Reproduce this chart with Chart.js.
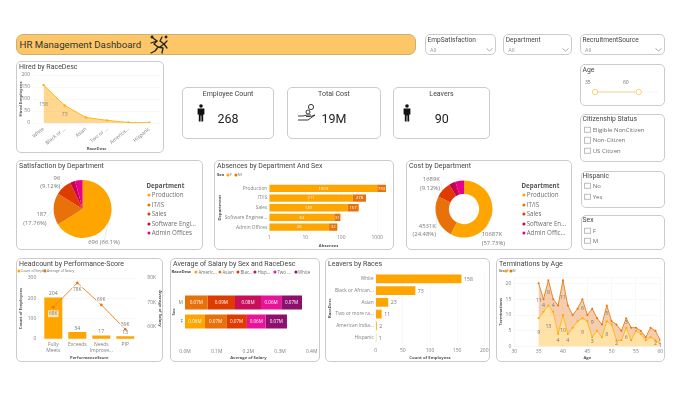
<!DOCTYPE html>
<html>
<head>
<meta charset="utf-8">
<title>HR Management Dashboard</title>
<script src="https://cdn.jsdelivr.net/npm/chart.js@4/dist/chart.umd.min.js"></script>
<style>
  html, body { margin: 0; padding: 0; background: #fff; width: 680px; height: 409px; overflow: hidden; }
  #page { position: relative; width: 680px; height: 409px; font-family: "Open Sans", sans-serif; color: #6e6e6e; filter: blur(0.3px); }
  .card { position: absolute; box-sizing: border-box; background: #fff; border: 1px solid #cbcbcb; border-radius: 5px; }
  .card canvas { position: absolute; left: -1px; top: -1px; }
  .txt { position: absolute; white-space: nowrap; line-height: 1; transform: translateY(-50%); }
  .din { font-family: Roboto, sans-serif; color: #444; }
  .dot { position: absolute; width: 3.2px; height: 3.2px; border-radius: 50%; transform: translate(-50%, -50%); }
  .box { position: absolute; width: 6.4px; height: 6.4px; box-sizing: border-box; border: 1px solid #bcbcbc; transform: translateY(-50%); background: #fff; }
  svg { position: absolute; overflow: visible; }
</style>
</head>
<body>
<div id="page"></div>
<script>
// chart values
const departments = ["Production", "IT/IS", "Sales", "Software Engineering", "Admin Offices"];
const deptColors = ["#FFA500", "#E8710A", "#DF3B00", "#C9004F", "#E5008C"];

const hiredRaces = ["White", "Black or ...", "Asian", "Two or ...", "America...", "Hispanic"];
const hiredValues = [158, 73, 23, 11, 2, 1];

const satisfactionValues = [696, 187, 96, 30, 44];
const satisfactionLabels = [["696 (66.1%)"], ["187", "(17.76%)"], ["96", "(9.12%)"]];

const absenceDepts = ["Production", "IT/IS", "Sales", "Software Enginee...", "Admin Offices"];
const absencesF = [1003, 211, 149, 64, 46];
const absencesM = [753, 278, 157, 31, 32];
const absenceTicks = [1, 10, 100, 1000];

const costValues = [10687, 4531, 1689, 700, 905];
const costLabels = [["10687K", "(57.73%)"], ["4531K", "(24.48%)"], ["1689K", "(9.12%)"]];

const perfScores = [["Fully", "Meets"], "Exceeds", ["Needs", "Improve..."], "PIP"];
const perfCounts = [204, 34, 17, 13];
const perfSalaries = [68000, 78000, 69000, 59000];
const perfSalaryTicks = [60000, 70000, 80000];

const salaryRaces = ["Americ...", "Asian", "Blac...", "Hisp...", "Two ...", "White"];
const salaryColors = ["#FFA500", "#E8710A", "#DF3B00", "#C80F5A", "#EA1299", "#8E0F6E"];
const salarySexes = ["M", "F"];
const salaryAmerican = [null, 63000];
const salaryAsian = [71600, 67400];
const salaryBlack = [86300, 65100];
const salaryHispanic = [82000, null];
const salaryTwo = [64000, 59000];
const salaryWhite = [65500, 67400];

const leaverRaces = ["White", "Black or African...", "Asian", "Two or more ra...", "American India...", "Hispanic"];
const leaverCounts = [158, 73, 23, 11, 2, 1];

const termAges = [35, 36, 37, 38, 39, 40, 41, 42, 43, 44, 45, 46, 47, 48, 49, 50, 51, 52, 53, 54, 55, 56, 57, 58, 59, 60];
const termF = [9, 11, 13, 11, 4, 10, 4, 6, 8, 9, 8, 3, 5, 3, 8, 7, 2, 2, 6, 2, 5, 4, 2, 3, 2, 1];
const termM = [11, 4, 8, 4, 9, 11, 9, 4, 4, 6, 2, 9, 4, 4, 5, 1, 5, 3, 3, 4, 1, 1, 1, 3, 3, 1];
const termLabelAgesF = [35, 37, 39, 40, 41, 44, 46, 49, 51, 53, 59, 60];
const termLabelAgesM = [35, 36, 37, 38, 40, 44, 46, 49, 53];

Chart.defaults.animation = false;
Chart.defaults.responsive = false;
Chart.defaults.font.family = "Open Sans";
Chart.defaults.font.size = 5;
Chart.defaults.color = "#808080";
Chart.defaults.plugins.legend.display = false;
Chart.defaults.plugins.tooltip.enabled = false;

const page = document.getElementById("page");

function addText(x, y, str, size, cls, extra) {
  const el = document.createElement("div");
  el.className = "txt " + (cls || "");
  el.textContent = str;
  el.style.left = x + "px";
  el.style.top = y + "px";
  el.style.fontSize = size + "px";
  if (extra) Object.assign(el.style, extra);
  page.appendChild(el);
  return el;
}

function addCard(x, y, w, h, title) {
  const el = document.createElement("div");
  el.className = "card";
  el.style.cssText = `left:${x}px;top:${y}px;width:${w}px;height:${h}px`;
  page.appendChild(el);
  if (title) addText(x + 3, y + 5.5, title, 7, "din");
  return el;
}

function addCanvas(card, w, h) {
  const c = document.createElement("canvas");
  c.width = w;
  c.height = h;
  card.appendChild(c);
  return c.getContext("2d");
}

function addDot(x, y, color) {
  const d = document.createElement("div");
  d.className = "dot";
  d.style.left = x + "px";
  d.style.top = y + "px";
  d.style.background = color;
  page.appendChild(d);
}

function addCheck(x, y, label) {
  const b = document.createElement("div");
  b.className = "box";
  b.style.left = x + "px";
  b.style.top = y + "px";
  page.appendChild(b);
  addText(x + 8.4, y, label, 6);
}

function addSvg(x, y, w, h, body) {
  page.insertAdjacentHTML("beforeend", `<svg style="left:${x}px;top:${y}px" width="${w}" height="${h}" viewBox="0 0 ${w} ${h}">${body}</svg>`);
}

function vertLegend(x, names) {
  addText(x - 2.5, 186, "Department", 6.2, "", { fontWeight: "700", color: "#555" });
  names.forEach(function (name, i) {
    const y = 195.3 + i * 9.4;
    addDot(x, y, deptColors[i]);
    addText(x + 2.7, y, name, 6.2);
  });
}

// scale helper: the axis box gets a fixed size so the plot sits where it should
function fit(size) {
  return function (s) {
    if (s.isHorizontal()) s.height = size;
    else s.width = size;
    s.paddingLeft = s.paddingRight = s.paddingTop = s.paddingBottom = 0;
  };
}

function axisTitle(str, pad) {
  return { display: true, text: str, font: { size: 4.2, weight: "700" }, color: "#555", padding: pad || 0 };
}

const noGrid = { display: false, drawTicks: false };
const softGrid = { color: "#f3f3f3", lineWidth: 0.6, drawTicks: false };

function drawText(ctx, str, x, y, color, size, align, bg) {
  ctx.save();
  ctx.font = `${size}px "Open Sans"`;
  ctx.textAlign = align || "center";
  ctx.textBaseline = "middle";
  if (bg) {
    const w = ctx.measureText(str).width + 2;
    ctx.fillStyle = bg;
    ctx.fillRect(x - w / 2, y - size / 2 - 1, w, size + 2);
  }
  ctx.fillStyle = color;
  ctx.fillText(str, x, y);
  ctx.restore();
}

function labelPlugin(draw) {
  return { id: "labels", afterDatasetsDraw: function (chart) { draw(chart, chart.ctx); } };
}

// pie / doughnut labels hang off the middle of each arc's outer edge
function arcLabels(texts, spots) {
  return labelPlugin(function (chart, ctx) {
    const arcs = chart.getDatasetMeta(0).data;
    texts.forEach(function (lines, i) {
      const a = arcs[i];
      const mid = (a.startAngle + a.endAngle) / 2;
      const ex = a.x + Math.cos(mid) * a.outerRadius;
      const ey = a.y + Math.sin(mid) * a.outerRadius;
      const s = spots[i];
      ctx.save();
      ctx.strokeStyle = "#dcdcdc";
      ctx.lineWidth = 0.6;
      ctx.beginPath();
      ctx.moveTo(ex, ey);
      ctx.lineTo(ex + s.dx, ey + s.dy + (lines.length - 1) * 3);
      ctx.stroke();
      ctx.restore();
      lines.forEach(function (line, j) {
        drawText(ctx, line, ex + s.dx, ey + s.dy + j * 8.8, "#777", 5.9, s.align);
      });
    });
  });
}

// ---- header
const header = addCard(16, 34, 400, 21);
header.style.background = "#FDC767";
header.style.borderRadius = "7px";
header.style.borderColor = "#c9b078";
addText(19.5, 44.5, "HR Management Dashboard", 9.7, "din", { color: "#333" });
addSvg(149, 35, 20, 20, `<g fill="none" stroke="#222" stroke-width="1.3" stroke-linecap="round" stroke-linejoin="round">
  <path d="M4 3 L8 6 L5 9 L9 12 L6 16 L2 18"/><path d="M8 6 L2 8"/><path d="M9 12 L14 13 L13 18"/>
  <path d="M13 2 L11 6 L15 9 L18 6"/><path d="M15 9 L11 12"/><path d="M15 9 L18 13"/>
  <circle cx="3" cy="2" r="0.8"/><circle cx="17" cy="2" r="0.8"/></g>`);

// ---- hired by race
const hiredCard = addCard(16, 61, 148, 92, "Hired by RaceDesc");
new Chart(addCanvas(hiredCard, 148, 92), {
  type: "line",
  data: {
    labels: hiredRaces,
    datasets: [{
      data: hiredValues,
      borderColor: "#FFB81C",
      backgroundColor: "rgba(255,176,30,0.5)",
      borderWidth: 1,
      pointRadius: 1.2,
      pointBackgroundColor: "#FFB000",
      pointBorderWidth: 0,
      tension: 0,
      fill: "origin",
    }],
  },
  options: {
    layout: { padding: { top: 14, right: 0.5 } },
    scales: {
      x: {
        offset: true,
        afterFit: fit(30),
        grid: noGrid,
        border: { display: false },
        ticks: { minRotation: 40, maxRotation: 40, autoSkip: false, padding: 3 },
        title: axisTitle("RaceDesc", { top: 0, bottom: 1.5 }),
      },
      y: {
        min: 0,
        max: 200,
        afterFit: fit(17),
        grid: softGrid,
        border: { display: false },
        ticks: { stepSize: 50, padding: 3, autoSkip: false },
        title: axisTitle("Hired Employees", { top: 2, bottom: 0 }),
      },
    },
  },
  plugins: [labelPlugin(function (chart, ctx) {
    const y0 = chart.scales.y.getPixelForValue(0);
    chart.getDatasetMeta(0).data.forEach(function (p, i) {
      if (hiredValues[i] > 50) drawText(ctx, String(hiredValues[i]), p.x, (p.y + y0) / 2, "#888", 5.2);
    });
  })],
});

// ---- KPI cards
function personIcon(x, y) {
  addSvg(x, y, 10, 18, `<g fill="#111"><circle cx="5" cy="2" r="1.8"/><path d="M1.6 4.6 H8.4 V10.6 H7.2 V17.5 H5.4 V11.5 H4.6 V17.5 H2.8 V10.6 H1.6 Z"/></g>`);
}
addCard(182, 87, 92, 52);
addText(228, 93.5, "Employee Count", 7, "din", { transform: "translate(-50%,-50%)" });
personIcon(196, 104);
addText(228, 119, "268", 12.5, "din", { transform: "translate(-50%,-50%)", color: "#222" });

addCard(287, 87, 94, 52);
addText(334, 93.5, "Total Cost", 7, "din", { transform: "translate(-50%,-50%)" });
addSvg(297, 103, 20, 20, `<g fill="none" stroke="#222" stroke-width="0.9" stroke-linejoin="round"><path d="M1 13 H6 L10 12 H14 M1 17 H6 L11 17 L18 12 L13.5 13.5 H9"/><circle cx="14" cy="4" r="2.6"/><circle cx="11" cy="9" r="2"/></g>`);
addText(334, 119, "19M", 12.5, "din", { transform: "translate(-50%,-50%)", color: "#222" });

addCard(393, 87, 97, 52);
addText(441.5, 93.5, "Leavers", 7, "din", { transform: "translate(-50%,-50%)" });
personIcon(402, 104);
addText(441.7, 119, "90", 12.5, "din", { transform: "translate(-50%,-50%)", color: "#222" });

// ---- slicers
function dropSlicer(x, w, title) {
  addCard(x, 34, w, 21);
  addText(x + 2.5, 39.5, title, 6.6, "din");
  addText(x + 5, 51, "All", 5.5, "", { color: "#999" });
  addSvg(x + w - 10, 48, 7, 4, `<path d="M0.5 0.5 L3.5 3 L6.5 0.5" fill="none" stroke="#999" stroke-width="0.8"/>`);
}
dropSlicer(425, 71, "EmpSatisfaction");
dropSlicer(503.3, 69, "Department");
dropSlicer(580, 85, "RecruitmentSource");

addCard(580, 64, 85, 42);
addText(582.5, 69.5, "Age", 6.8, "din");
addText(585, 81.7, "35", 5);
addText(623, 81.7, "60", 5);
addSvg(590, 88, 70, 8, `<line x1="5" y1="4" x2="68" y2="4" stroke="#f0f0f0" stroke-width="0.8"/><line x1="5" y1="4" x2="48.7" y2="4" stroke="#F6D98D" stroke-width="1.2"/>
  <circle cx="5" cy="4" r="2.7" fill="#fff" stroke="#F4CE6A" stroke-width="0.9"/><circle cx="48.7" cy="4" r="2.7" fill="#fff" stroke="#F4CE6A" stroke-width="0.9"/>`);

addCard(580, 113.5, 85, 48.5);
addText(582.5, 119.3, "Citizenship Status", 6.8, "din");
addCheck(584.3, 129.7, "Eligible NonCitizen");
addCheck(584.3, 140.2, "Non-Citizen");
addCheck(584.3, 150.8, "US Citizen");

addCard(581, 170.5, 84, 37);
addText(582.5, 175.7, "Hispanic", 6.8, "din");
addCheck(584.3, 186, "No");
addCheck(584.3, 196.7, "Yes");

addCard(581, 215, 84, 35);
addText(582.5, 220, "Sex", 6.8, "din");
addCheck(584.3, 230.7, "F");
addCheck(584.3, 241, "M");

// ---- satisfaction pie
const satCard = addCard(16, 160, 187, 90, "Satisfaction by Department");
new Chart(addCanvas(satCard, 187, 90), {
  type: "pie",
  data: { labels: departments, datasets: [{ data: satisfactionValues, backgroundColor: deptColors, borderWidth: 0 }] },
  options: { layout: { padding: { left: 37.6, right: 91.4, top: 20, bottom: 12 } } },
  plugins: [arcLabels(satisfactionLabels, [
    { dx: -4, dy: 19, align: "center" },
    { dx: -7, dy: 5.3, align: "right" },
    { dx: -3, dy: -9.5, align: "right" },
  ])],
});
vertLegend(149, ["Production", "IT/IS", "Sales", "Software Engi...", "Admin Offices"]);

// ---- absences by department and sex
const absCard = addCard(214, 160, 180, 90, "Absences by Department And Sex");
new Chart(addCanvas(absCard, 180, 90), {
  type: "bar",
  data: {
    labels: absenceDepts,
    datasets: [
      { label: "F", data: absencesF, backgroundColor: deptColors[0], barPercentage: 0.75, categoryPercentage: 1 },
      { label: "M", data: absencesM, backgroundColor: deptColors[1], barPercentage: 0.75, categoryPercentage: 1 },
    ],
  },
  options: {
    indexAxis: "y",
    layout: { padding: { top: 23.5, right: 6 } },
    scales: {
      x: {
        type: "logarithmic",
        stacked: true,
        min: 1,
        max: 2000,
        afterFit: fit(18),
        afterBuildTicks: function (s) { s.ticks = absenceTicks.map(function (v) { return { value: v }; }); },
        grid: softGrid,
        border: { display: false },
        ticks: { padding: 3, callback: function (v) { return String(v); } },
        title: axisTitle("Absences", { top: 0, bottom: 1.5 }),
      },
      y: {
        stacked: true,
        afterFit: fit(55.3),
        grid: noGrid,
        border: { display: false },
        ticks: { padding: 2, autoSkip: false, font: { size: 4.8 } },
        title: axisTitle("Department", { top: 3, bottom: 0 }),
      },
    },
  },
  plugins: [labelPlugin(function (chart, ctx) {
    [absencesF, absencesM].forEach(function (vals, d) {
      chart.getDatasetMeta(d).data.forEach(function (b, i) {
        drawText(ctx, String(vals[i]), (b.x + b.base) / 2, b.y, "#fff", 4.2);
      });
    });
  })],
});
addText(217, 175, "Sex", 4.2, "", { fontWeight: "700", color: "#444" });
addDot(227.7, 175, deptColors[0]);
addText(230, 175, "F", 4.2);
addDot(236, 175, deptColors[1]);
addText(238, 175, "M", 4.2);

// ---- cost doughnut
const costCard = addCard(406, 160, 166, 90, "Cost by Department");
new Chart(addCanvas(costCard, 166, 90), {
  type: "doughnut",
  data: { labels: departments, datasets: [{ data: costValues, backgroundColor: deptColors, borderWidth: 0 }] },
  options: { cutout: "53%", layout: { padding: { left: 29.5, right: 79.5, top: 20.5, bottom: 12.5 } } },
  plugins: [arcLabels(costLabels, [
    { dx: -10, dy: 18.3, align: "left" },
    { dx: -1, dy: 8, align: "right" },
    { dx: -3, dy: -10, align: "right" },
  ])],
});
vertLegend(524, ["Production", "IT/IS", "Sales", "Software En...", "Admin Offic..."]);

// ---- headcount by performance score
const headCard = addCard(16, 258, 147, 104, "Headcount by Performance-Score");
new Chart(addCanvas(headCard, 147, 104), {
  data: {
    labels: perfScores,
    datasets: [
      { type: "line", data: perfSalaries, yAxisID: "y1", borderColor: "#E8892A", borderWidth: 1, pointRadius: 1.3, pointBackgroundColor: "#E8710A", pointBorderWidth: 0, tension: 0, order: 1 },
      { type: "bar", data: perfCounts, yAxisID: "y", backgroundColor: deptColors[0], barPercentage: 0.75, categoryPercentage: 1, order: 2 },
    ],
  },
  options: {
    layout: { padding: { top: 20 } },
    scales: {
      x: {
        afterFit: fit(23),
        grid: noGrid,
        border: { display: false },
        ticks: { padding: 3, autoSkip: false, maxRotation: 0 },
        title: axisTitle("PerformanceScore", { top: 0, bottom: 1.5 }),
      },
      y: {
        min: 0,
        max: 300,
        afterFit: fit(25.3),
        grid: softGrid,
        border: { display: false },
        ticks: { stepSize: 100, padding: 5, autoSkip: false },
        title: axisTitle("Count of Employees", { top: 2.5, bottom: 0 }),
      },
      y1: {
        position: "right",
        min: 55000,
        max: 80000,
        afterFit: fit(25.7),
        afterBuildTicks: function (s) { s.ticks = perfSalaryTicks.map(function (v) { return { value: v }; }); },
        grid: noGrid,
        border: { display: false },
        ticks: {
          padding: 10,
          autoSkip: false,
          callback: function (v) { return v / 1000 + "K"; },
        },
        title: axisTitle("Average of Salary", { top: 0.5, bottom: 0.5 }),
      },
    },
  },
  plugins: [labelPlugin(function (chart, ctx) {
    chart.getDatasetMeta(1).data.forEach(function (b, i) {
      drawText(ctx, String(perfCounts[i]), b.x, b.y - 4, "#777", 5.2);
    });
    chart.getDatasetMeta(0).data.forEach(function (p, i) {
      const dy = i < 2 ? 6.5 : -5;
      drawText(ctx, perfSalaries[i] / 1000 + "K", p.x, p.y + dy, "#777", 4.8, "center", "rgba(255,255,255,0.72)");
    });
  })],
});
addDot(19, 271, deptColors[0]);
addText(21, 271, "Count of EmpID", 3.4);
addDot(45, 271, deptColors[1]);
addText(47, 271, "Average of Salary", 3.4);

// ---- average salary
const salCard = addCard(170, 258, 150, 104, "Average of Salary by Sex and RaceDesc");
const salarySeries = [salaryAmerican, salaryAsian, salaryBlack, salaryHispanic, salaryTwo, salaryWhite];
new Chart(addCanvas(salCard, 150, 104), {
  type: "bar",
  data: {
    labels: salarySexes,
    datasets: salarySeries.map(function (vals, i) {
      return { data: vals, backgroundColor: salaryColors[i], barPercentage: 0.74, categoryPercentage: 1 };
    }),
  },
  options: {
    indexAxis: "y",
    layout: { padding: { top: 35, right: 8.3 } },
    scales: {
      x: {
        stacked: true,
        min: 0,
        max: 400000,
        afterFit: fit(31),
        grid: noGrid,
        border: { display: false },
        ticks: { stepSize: 100000, padding: 17.5, callback: function (v) { return (v / 1000000).toFixed(1) + "M"; } },
        title: axisTitle("Average of Salary", { top: 0, bottom: 1.5 }),
      },
      y: {
        stacked: true,
        afterFit: fit(15),
        grid: noGrid,
        border: { display: false },
        ticks: { padding: 2 },
        title: axisTitle("Sex", { top: 1, bottom: 0 }),
      },
    },
  },
  plugins: [labelPlugin(function (chart, ctx) {
    salarySeries.forEach(function (vals, d) {
      chart.getDatasetMeta(d).data.forEach(function (b, i) {
        if (vals[i]) drawText(ctx, (vals[i] / 1000000).toFixed(2) + "M", (b.x + b.base) / 2, b.y, "#fff", 4.6);
      });
    });
  })],
});
addText(171.5, 272, "RaceDesc", 4.2, "", { fontWeight: "700", color: "#444" });
salaryRaces.forEach(function (name, i) {
  const x = [196, 220, 238, 255, 275, 295.7][i];
  addDot(x, 272, salaryColors[i]);
  addText(x + 2.4, 272, name, 4.5);
});

// ---- leavers by race
const leavCard = addCard(325, 258, 165, 104, "Leavers by Races");
new Chart(addCanvas(leavCard, 165, 104), {
  type: "bar",
  data: {
    labels: leaverRaces,
    datasets: [{ data: leaverCounts, backgroundColor: deptColors[0], barPercentage: 0.75, categoryPercentage: 1 }],
  },
  options: {
    indexAxis: "y",
    layout: { padding: { top: 15, right: 5.7 } },
    scales: {
      x: {
        min: 0,
        max: 200,
        afterFit: fit(18.5),
        grid: softGrid,
        border: { display: false },
        ticks: { stepSize: 50, padding: 4 },
        title: axisTitle("Count of Employees", { top: 0, bottom: 1.5 }),
      },
      y: {
        afterFit: fit(50.7),
        grid: noGrid,
        border: { display: false },
        ticks: { padding: 2, autoSkip: false, font: { size: 4.8 } },
        title: axisTitle("RaceDesc", { top: 2.5, bottom: 0 }),
      },
    },
  },
  plugins: [labelPlugin(function (chart, ctx) {
    chart.getDatasetMeta(0).data.forEach(function (b, i) {
      drawText(ctx, String(leaverCounts[i]), b.x + 2.5, b.y + 0.5, "#777", 5.2, "left");
    });
  })],
});

// ---- terminations by age
const termCard = addCard(496, 258, 169, 104, "Terminations by Age");
const toPoints = function (vals) {
  return vals.map(function (v, i) { return { x: termAges[i], y: v }; });
};
new Chart(addCanvas(termCard, 169, 104), {
  type: "line",
  data: {
    datasets: [
      { data: toPoints(termF), borderColor: "#FFB81C", backgroundColor: "rgba(255,190,60,0.45)", borderWidth: 1, pointRadius: 1, pointBackgroundColor: "#FFA500", pointBorderWidth: 0, tension: 0, fill: "origin" },
      { data: toPoints(termM), borderColor: "#E8892A", backgroundColor: "rgba(232,125,40,0.38)", borderWidth: 1, pointRadius: 1, pointBackgroundColor: "#E8710A", pointBorderWidth: 0, tension: 0, fill: "-1" },
    ],
  },
  options: {
    layout: { padding: { top: 19, right: 4.7 } },
    scales: {
      x: {
        type: "linear",
        min: 30,
        max: 60,
        afterFit: fit(15.3),
        grid: softGrid,
        border: { display: false },
        ticks: { stepSize: 5, padding: 2 },
        title: axisTitle("Age", { top: 0, bottom: 1.5 }),
      },
      y: {
        stacked: true,
        min: 0,
        max: 22,
        afterFit: fit(18.3),
        grid: softGrid,
        border: { display: false },
        ticks: { stepSize: 5, padding: 3, autoSkip: false, callback: function (v) { return v % 5 === 0 ? v : ""; } },
        title: axisTitle("Terminations", { top: 2.5, bottom: 0 }),
      },
    },
  },
  plugins: [labelPlugin(function (chart, ctx) {
    const y0 = chart.scales.y.getPixelForValue(0);
    const low = chart.getDatasetMeta(0).data;
    const top = chart.getDatasetMeta(1).data;
    termLabelAgesF.forEach(function (age) {
      const i = termAges.indexOf(age);
      drawText(ctx, String(termF[i]), low[i].x, (low[i].y + y0) / 2, "#777", 5.2);
    });
    termLabelAgesM.forEach(function (age) {
      const i = termAges.indexOf(age);
      drawText(ctx, String(termM[i]), top[i].x, (top[i].y + low[i].y) / 2, "#777", 5.2);
    });
  })],
});
addText(499, 271, "Sex", 3.4, "", { fontWeight: "700" });
addDot(505.5, 271, deptColors[0]);
addText(507, 271, "F", 3.4);
addDot(511, 271, deptColors[1]);
addText(512.5, 271, "M", 3.4);
</script>
</body>
</html>
